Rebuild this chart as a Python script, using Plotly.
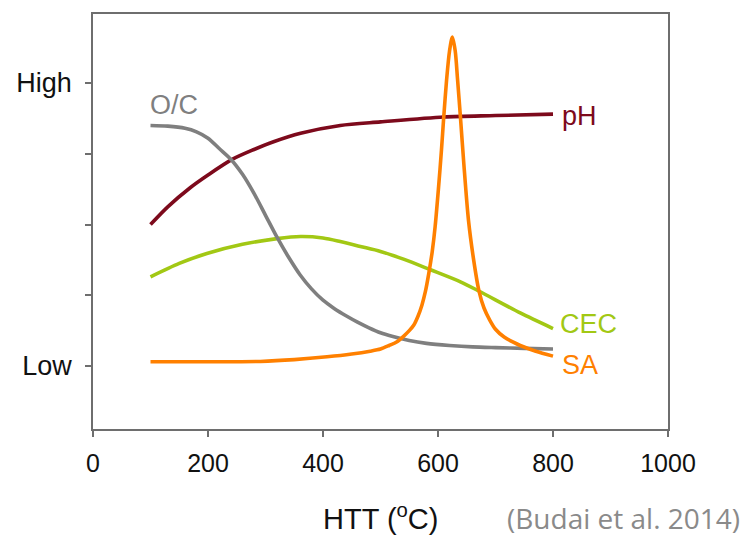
import plotly.graph_objects as go

# HTT (°C) and relative level (1 = Low, 5 = High)
oc_x = [100, 130, 160, 180, 200, 220, 240, 260, 280, 300, 320, 340, 360, 380, 400, 420, 440, 460, 480, 500,
        520, 550, 580, 620, 660, 700, 750, 800]
oc_y = [4.40, 4.39, 4.36, 4.31, 4.22, 4.07, 3.92, 3.71, 3.44, 3.13, 2.82, 2.54, 2.29, 2.09, 1.93, 1.81, 1.71, 1.62, 1.54, 1.47,
        1.42, 1.36, 1.32, 1.29, 1.27, 1.26, 1.25, 1.24]

ph_x = [100, 130, 169, 200, 242, 280, 314, 361, 430, 500, 610, 700, 800]
ph_y = [3.00, 3.25, 3.52, 3.70, 3.92, 4.06, 4.17, 4.29, 4.40, 4.45, 4.52, 4.54, 4.56]

cec_x = [100, 150, 198, 260, 320, 361, 400, 430, 465, 500, 540, 587, 639, 671, 743, 800]
cec_y = [2.26, 2.45, 2.59, 2.72, 2.80, 2.83, 2.81, 2.76, 2.69, 2.62, 2.51, 2.36, 2.19, 2.06, 1.75, 1.53]

sa_x = [100, 200, 291, 350, 407, 450, 482, 500, 515, 528, 540, 550, 558, 565, 572, 578, 584, 590, 595, 601,
        606, 610, 615, 620, 625, 630, 634, 639, 645, 653, 662, 671, 680, 690, 700, 715, 730, 743, 770, 800]
sa_y = [1.06, 1.06, 1.065, 1.09, 1.13, 1.17, 1.21, 1.24, 1.29, 1.34, 1.42, 1.50, 1.58, 1.70, 1.86, 2.05, 2.31, 2.62, 2.97, 3.53,
        4.05, 4.52, 5.05, 5.45, 5.65, 5.45, 5.05, 4.52, 3.85, 3.06, 2.50, 2.07, 1.82, 1.65, 1.52, 1.41, 1.34, 1.29, 1.21, 1.14]

x_ticks = [0, 200, 400, 600, 800, 1000]
y_ticks = [1, 5]
y_tick_labels = ["Low", "High"]
y_minor_ticks = [2, 3, 4]

C_OC = "#7f7f7f"
C_PH = "#7d0a1c"
C_CEC = "#a2c814"
C_SA = "#ff8000"

fig = go.Figure()
for xs, ys, c in [(cec_x, cec_y, C_CEC), (ph_x, ph_y, C_PH), (oc_x, oc_y, C_OC), (sa_x, sa_y, C_SA)]:
    fig.add_trace(go.Scatter(x=xs, y=ys, mode="lines",
                             line=dict(color=c, width=3.6, shape="spline", smoothing=0.8),
                             showlegend=False, hoverinfo="skip"))

lab_font = "Liberation Sans, Arial, sans-serif"
labels = [("O/C", 96, 4.69, C_OC), ("pH", 813, 4.54, C_PH), ("CEC", 808, 1.594, C_CEC), ("SA", 813, 1.014, C_SA)]
for t, x, y, c in labels:
    fig.add_annotation(x=x, y=y, xref="x", yref="y", text=t, showarrow=False,
                       xanchor="left", yanchor="middle",
                       font=dict(family=lab_font, size=27, color=c))

fig.add_annotation(x=0.5, y=-0.212, xref="paper", yref="paper", text="HTT (<sup>o</sup>C)",
                   showarrow=False, xanchor="center", yanchor="middle",
                   font=dict(family=lab_font, size=29, color="#111111"))
fig.add_annotation(x=1.129, y=-0.215, xref="paper", yref="paper", text="(Budai et al. 2014)",
                   showarrow=False, xanchor="right", yanchor="middle",
                   font=dict(family="Open Sans, sans-serif", size=28, color="#8a8a8a"))

fig.update_layout(
    width=743, height=539,
    margin=dict(l=93, r=75, t=14, b=110),
    paper_bgcolor="white", plot_bgcolor="white",
    font=dict(family=lab_font, color="#111111"),
    hovermode=False,
)
fig.update_xaxes(range=[0, 1000], tickvals=x_ticks, ticktext=[str(v) for v in x_ticks],
                 showgrid=False, zeroline=False, showline=True, mirror=True, automargin=False,
                 linecolor="#6e6e6e", linewidth=1.5, ticks="outside", ticklen=6,
                 tickcolor="#6e6e6e", tickwidth=1.5, tickfont=dict(size=25, color="#111111"),
                 ticklabelstandoff=5)
fig.update_yaxes(range=[0.11, 5.975], tickvals=y_ticks, ticktext=y_tick_labels,
                 minor=dict(tickvals=y_minor_ticks, ticks="outside", ticklen=6,
                            tickcolor="#6e6e6e", tickwidth=1.5, showgrid=False),
                 showgrid=False, zeroline=False, showline=True, mirror=True, automargin=False,
                 linecolor="#6e6e6e", linewidth=1.5, ticks="outside", ticklen=6,
                 tickcolor="#6e6e6e", tickwidth=1.5, tickfont=dict(size=27, color="#111111"),
                 ticklabelstandoff=8)

fig.write_html("out.html", config={"displayModeBar": False},
               post_script="document.body.style.margin='0px';document.body.style.overflow='hidden';")
